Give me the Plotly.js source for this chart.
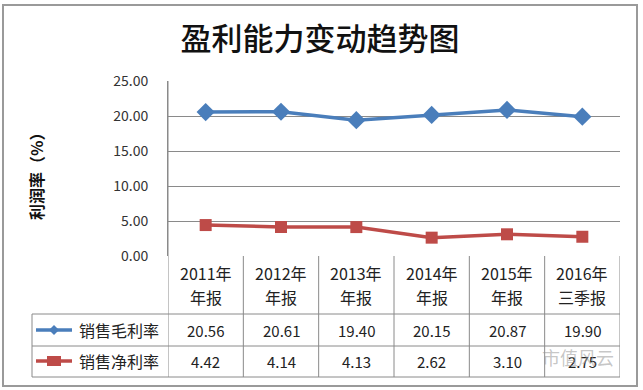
<!DOCTYPE html>
<html>
<head>
<meta charset="utf-8">
<script src="https://cdn.plot.ly/plotly-3.0.1.min.js"></script>
<style>html,body{margin:0;padding:0;background:#fff;}#chart{width:643px;height:390px;}</style>
</head>
<body>
<div id="chart"></div>
<script>
// ---- data ----
const catLine1 = ['2011年', '2012年', '2013年', '2014年', '2015年', '2016年'];
const catLine2 = ['年报', '年报', '年报', '年报', '年报', '三季报'];
const categories = catLine1.map((c, i) => c + catLine2[i]);
const seriesNames = ['销售毛利率', '销售净利率'];
const grossMargin = [20.56, 20.61, 19.40, 20.15, 20.87, 19.90];
const netMargin = [4.42, 4.14, 4.13, 2.62, 3.10, 2.75];
const yTickVals = [0, 5, 10, 15, 20, 25];

// ---- layout helpers (pixel -> paper) ----
const PL = 168, PR = 620, PT = 81, PB = 256;
const W = 643, H = 390;
const pw = PR - PL, ph = PB - PT;
const fx = p => (p - PL) / pw;
const fy = p => (PB - p) / ph;

const FONT = '"Noto Sans CJK SC", "Noto Sans", sans-serif';
const blue = '#4A7EBB';
const red = '#BE4B48';
const gridC = '#8a8a8a';

const traces = [
  {x: categories, y: grossMargin, name: seriesNames[0], type: 'scatter', mode: 'lines+markers',
   line: {color: blue, width: 3.5}, marker: {symbol: 'diamond', size: 14, color: blue}, cliponaxis: false},
  {x: categories, y: netMargin, name: seriesNames[1], type: 'scatter', mode: 'lines+markers',
   line: {color: red, width: 3.5}, marker: {symbol: 'square', size: 12, color: red}, cliponaxis: false}
];

const rowY = [330, 361];
const shapes = [];
const annotations = [];
const lineStyle = {color: gridC, width: 1};

// outer frame
shapes.push({type: 'rect', xref: 'paper', yref: 'paper', x0: fx(3), x1: fx(637), y0: fy(5), y1: fy(386),
  line: {color: '#9a9a9a', width: 2}, layer: 'below'});
// table horizontal lines
shapes.push({type: 'line', xref: 'paper', yref: 'paper', x0: fx(32), x1: 1, y0: fy(314), y1: fy(314), line: lineStyle});
shapes.push({type: 'line', xref: 'paper', yref: 'paper', x0: fx(32), x1: 1, y0: fy(346), y1: fy(346), line: lineStyle});
shapes.push({type: 'line', xref: 'paper', yref: 'paper', x0: fx(32), x1: 1, y0: fy(377), y1: fy(377), line: lineStyle});
// legend column left border
shapes.push({type: 'line', xref: 'paper', yref: 'paper', x0: fx(32), x1: fx(32), y0: fy(314), y1: fy(377), line: lineStyle});
// category boundaries
for (let i = 0; i <= categories.length; i++) {
  shapes.push({type: 'line', xref: 'x', yref: 'paper', x0: i - 0.5, x1: i - 0.5,
    y0: i === 0 ? 1 : 0, y1: fy(377), line: lineStyle});
}

// category labels
categories.forEach((c, i) => {
  annotations.push({xref: 'x', yref: 'paper', x: c, y: fy(273), text: catLine1[i], showarrow: false,
    font: {family: FONT, size: 16, color: '#222'}, xanchor: 'center', yanchor: 'middle'});
  annotations.push({xref: 'x', yref: 'paper', x: c, y: fy(297), text: catLine2[i], showarrow: false,
    font: {family: FONT, size: 16, color: '#222'}, xanchor: 'center', yanchor: 'middle'});
  annotations.push({xref: 'x', yref: 'paper', x: c, y: fy(rowY[0]), text: grossMargin[i].toFixed(2), showarrow: false,
    font: {family: FONT, size: 15, color: '#222'}, xanchor: 'center', yanchor: 'middle'});
  annotations.push({xref: 'x', yref: 'paper', x: c, y: fy(rowY[1]), text: netMargin[i].toFixed(2), showarrow: false,
    font: {family: FONT, size: 15, color: '#222'}, xanchor: 'center', yanchor: 'middle'});
});

// legend keys in table
const legendColors = [blue, red];
seriesNames.forEach((n, k) => {
  const yy = fy(rowY[k]);
  shapes.push({type: 'line', xref: 'paper', yref: 'paper', x0: fx(36), x1: fx(72), y0: yy, y1: yy,
    line: {color: legendColors[k], width: 3.5}});
  annotations.push({xref: 'paper', yref: 'paper', x: fx(77), y: yy, text: n, showarrow: false,
    font: {family: FONT, size: 16, color: '#222'}, xanchor: 'left', yanchor: 'middle'});
});
// legend markers
shapes.push({type: 'path', xref: 'paper', yref: 'paper',
  path: `M ${fx(54)} ${fy(rowY[0]-5)} L ${fx(59)} ${fy(rowY[0])} L ${fx(54)} ${fy(rowY[0]+5)} L ${fx(49)} ${fy(rowY[0])} Z`,
  fillcolor: blue, line: {width: 0}});
shapes.push({type: 'rect', xref: 'paper', yref: 'paper', x0: fx(47), x1: fx(61), y0: fy(rowY[1]-5), y1: fy(rowY[1]+5),
  fillcolor: red, line: {width: 0}});

// y axis title
annotations.push({xref: 'paper', yref: 'paper', x: fx(36), y: fy(173), text: '利润率（%）', textangle: -90,
  showarrow: false, font: {family: FONT, size: 16, color: '#111', weight: 'bold'}, xanchor: 'center', yanchor: 'middle'});

// watermark
annotations.push({xref: 'paper', yref: 'paper', x: fx(578), y: fy(357), text: '市值风云', showarrow: false,
  font: {family: FONT, size: 18, color: 'rgba(150,150,150,0.55)'}, xanchor: 'center', yanchor: 'middle'});

const layout = {
  width: W, height: H,
  margin: {l: PL, r: W - PR, t: PT, b: H - PB, pad: 0},
  paper_bgcolor: '#fff', plot_bgcolor: '#fff',
  showlegend: false,
  title: {text: '盈利能力变动趋势图', x: 320 / W, xanchor: 'center', xref: 'container',
    y: 1 - 39 / H, yanchor: 'middle', yref: 'container',
    font: {family: FONT, size: 31, color: '#111', weight: 500}},
  xaxis: {type: 'category', categoryarray: categories, range: [-0.5, categories.length - 0.5],
    showticklabels: false, showgrid: false, zeroline: false, showline: false, fixedrange: true},
  yaxis: {range: [0, 25], tickvals: yTickVals, tickformat: '.2f', showgrid: true, gridcolor: gridC, gridwidth: 1,
    zeroline: false, showline: true, linecolor: gridC, linewidth: 1, ticks: '', ticklabelstandoff: 16,
    tickfont: {family: FONT, size: 14, color: '#333'}, fixedrange: true},
  shapes: shapes,
  annotations: annotations
};

Plotly.newPlot('chart', traces, layout, {displayModeBar: false, staticPlot: true});
</script>
</body>
</html>
